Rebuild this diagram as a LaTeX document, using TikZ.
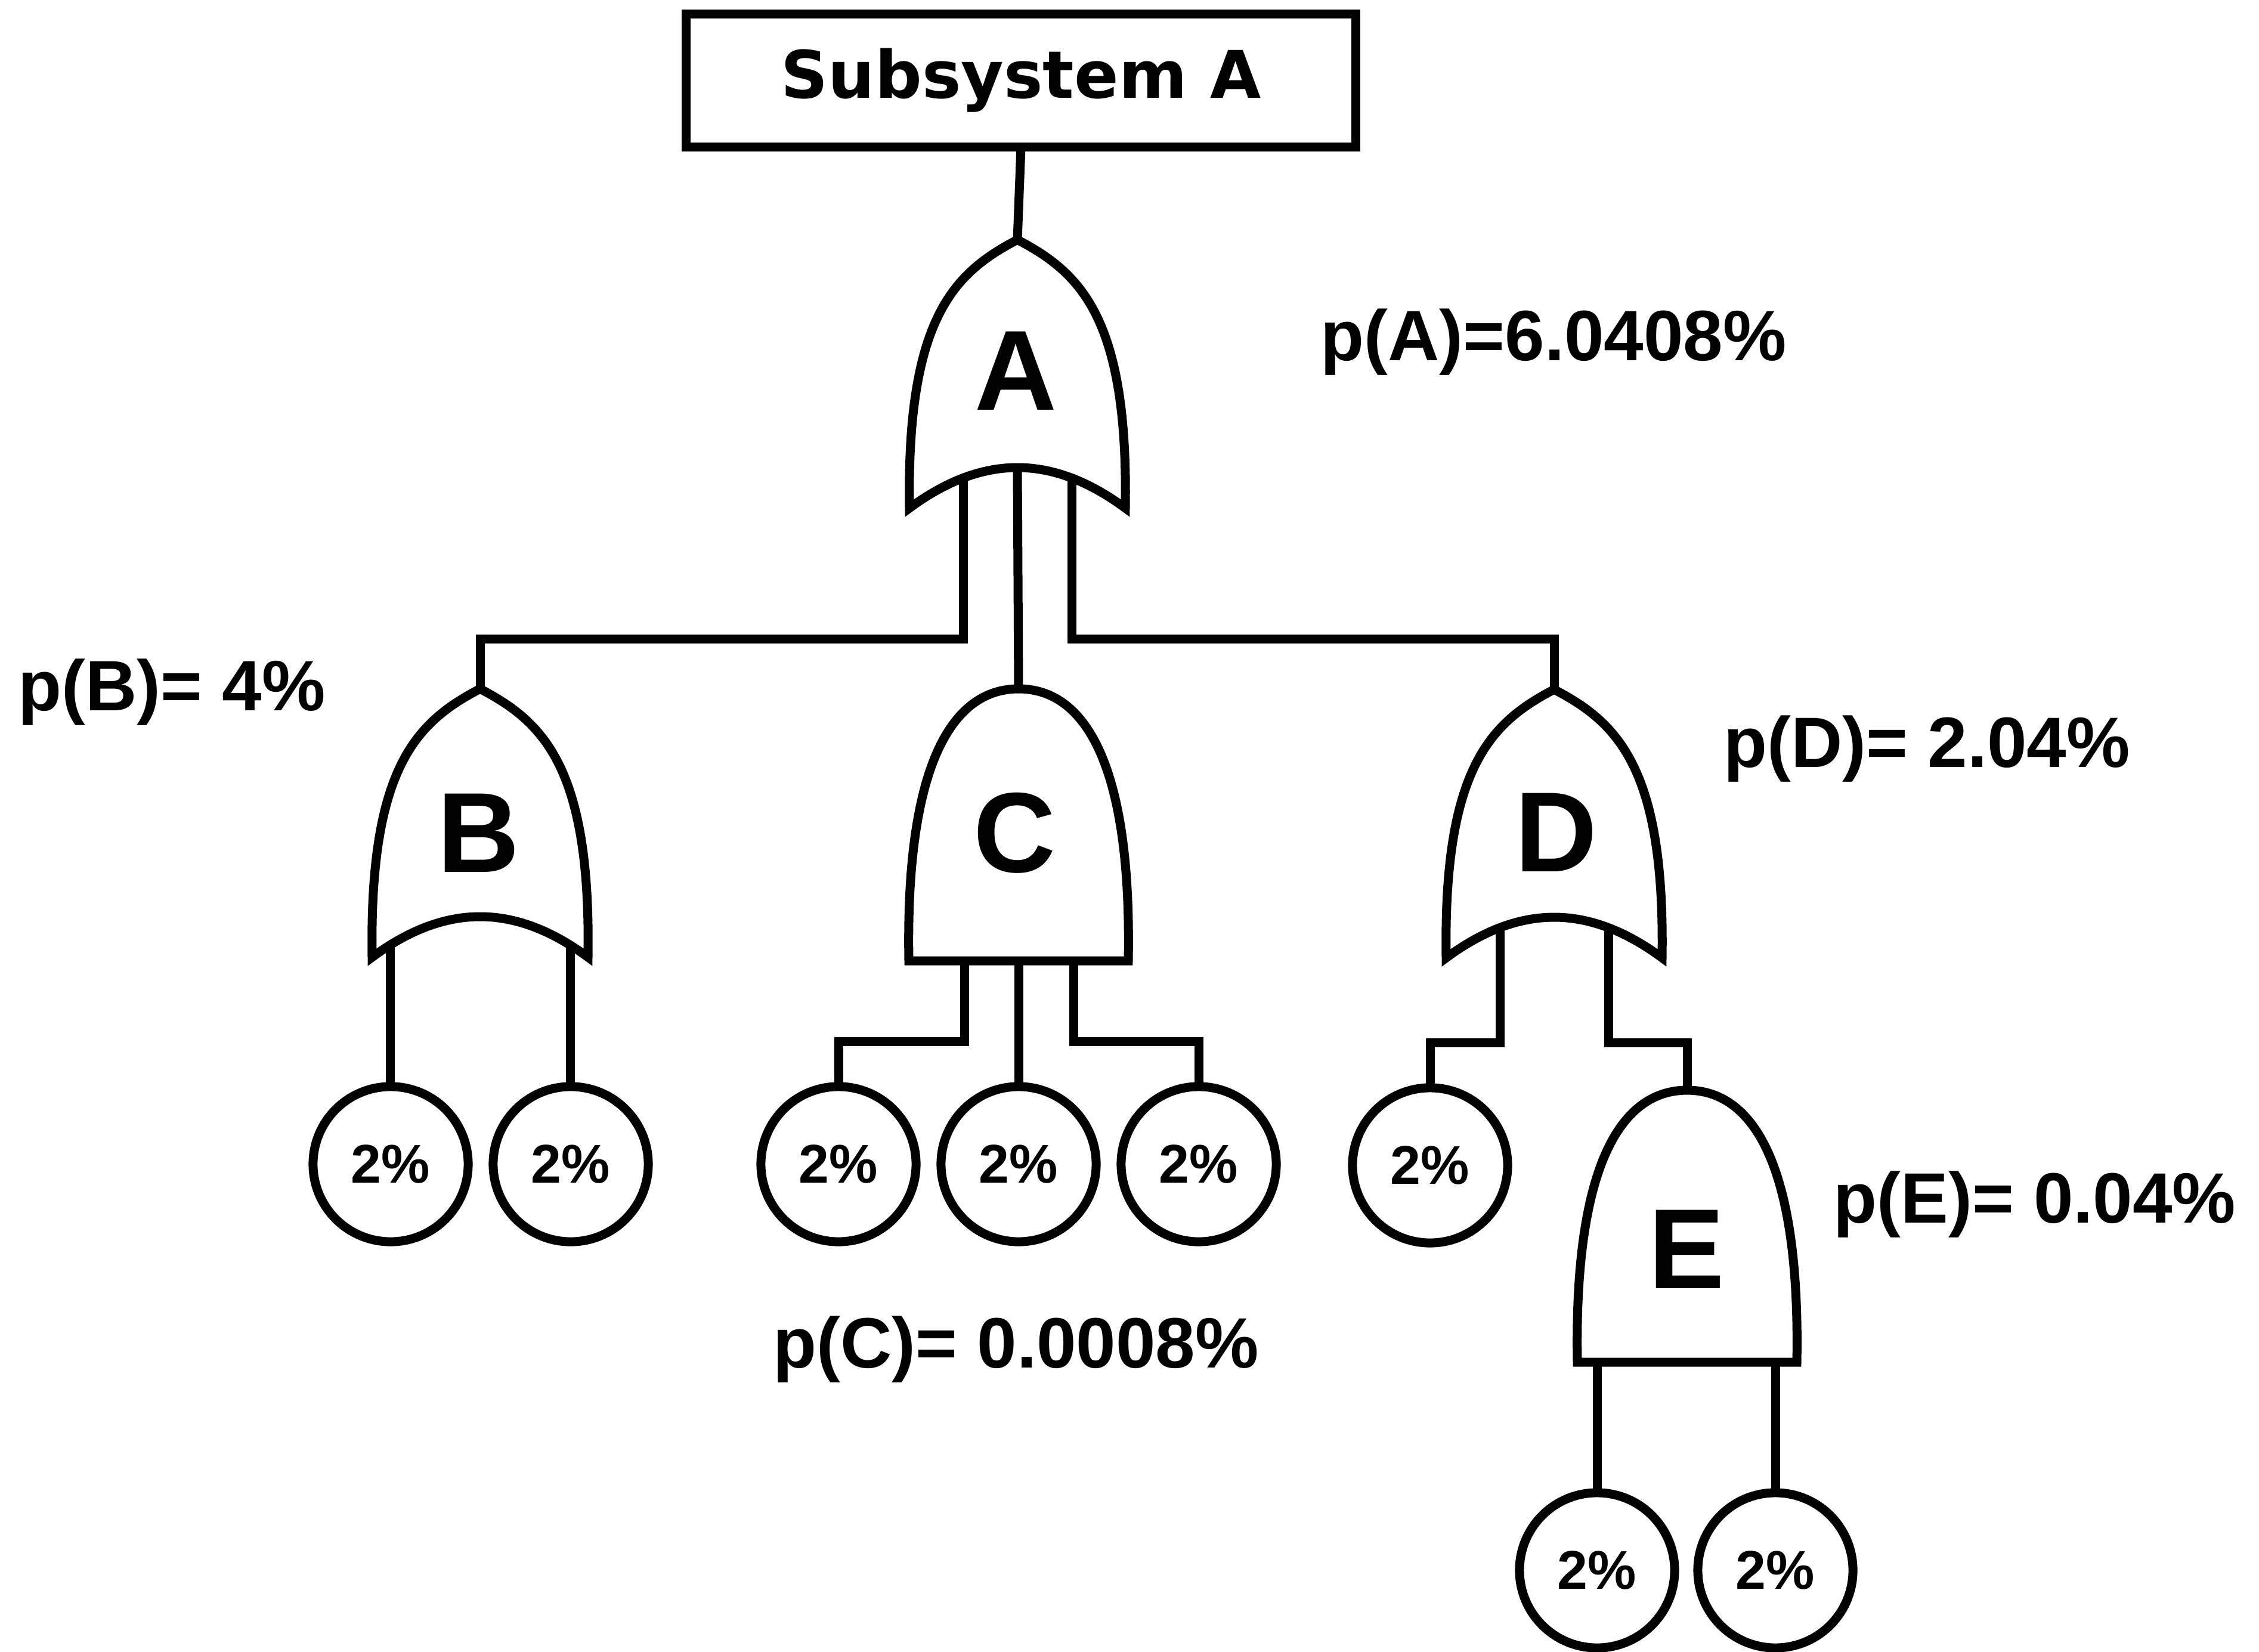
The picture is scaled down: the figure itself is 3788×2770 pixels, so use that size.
\documentclass[tikz,border=0pt]{standalone}
\usepackage{fontspec}
\setmainfont{Liberation Sans}
\newfontfamily\boxfont{DejaVu Sans}
\tikzset{
  ln/.style={line width=0.15cm,draw=black,miter limit=10},
  gateshape/.style={ln,fill=white},
  gatesym/.style={anchor=base,inner sep=0,font=\fontsize{54.3}{60}\selectfont\bfseries},
  prob/.style={anchor=base west,inner sep=0,font=\fontsize{34}{40}\selectfont\bfseries},
  basic/.style={ln,fill=white,circle,minimum size=2.6cm,inner sep=0,outer sep=0,font=\fontsize{26}{30}\selectfont\bfseries},
  topbox/.style={ln,fill=white,rectangle,minimum width=11.23cm,minimum height=2.23cm,inner sep=0,outer sep=0,font=\fontsize{31.3}{36}\selectfont\boxfont\bfseries},
  orgate/.pic={
    \draw[gateshape] (0,0) .. controls (105,55) and (186,130) .. (181,450)
      .. controls (120,405) and (60,382) .. (0,382)
      .. controls (-60,382) and (-120,405) .. (-181,450)
      .. controls (-186,130) and (-105,55) .. cycle;
    \coordinate (-top) at (0,0);
    \coordinate (-c) at (0,382);
    \coordinate (-l) at (-91,398);
    \coordinate (-r) at (91,398);
    \coordinate (-ll) at (-151,428);
    \coordinate (-rr) at (151,428);
  },
  andgate/.pic={
    \draw[gateshape] (0,0) .. controls (108,0) and (190,120) .. (184,456)
      -- (-184,456)
      .. controls (-190,120) and (-108,0) .. cycle;
    \coordinate (-top) at (0,0);
    \coordinate (-c) at (0,456);
    \coordinate (-l) at (-91,456);
    \coordinate (-r) at (92,456);
    \coordinate (-ll) at (-151,456);
    \coordinate (-rr) at (148,456);
  },
}
\begin{document}
\begin{tikzpicture}[x=0.01cm,y=-0.01cm]
\useasboundingbox (0,0) rectangle (3788,2770);
\fill[white] (0,0) rectangle (3788,2770);
% top box
\node[topbox] (box) at (1712,135) {\raisebox{-0.05cm}{Subsystem A}};
% gates
\pic (A) at (1706,402) {orgate};
\pic (B) at (805,1155) {orgate};
\pic (C) at (1708,1155) {andgate};
\pic (D) at (2606,1156) {orgate};
\pic (E) at (2829,1828) {andgate};
\node[gatesym] (tA) at (1703,687) {A};
\node[gatesym] (tB) at (802,1462) {B};
\node[gatesym] (tC) at (1701,1462) {C};
\node[gatesym] (tD) at (2609,1461) {D};
\node[gatesym] (tE) at (2828,2160) {E};
% basic events
\node[basic] (b1) at (655,1952) {2\%};
\node[basic] (b2) at (957,1952) {2\%};
\node[basic] (c1) at (1406,1952) {2\%};
\node[basic] (c2) at (1708,1952) {2\%};
\node[basic] (c3) at (2010,1952) {2\%};
\node[basic] (d1) at (2398,1954) {2\%};
\node[basic] (e1) at (2678,2633) {2\%};
\node[basic] (e2) at (2977,2633) {2\%};
% bus levels
\coordinate (busA) at (0,1071);
\coordinate (busC) at (0,1746);
\coordinate (busD) at (0,1748);
% connectors
\draw[ln] (box.south) -- (A-top);
\draw[ln] (A-l) -- (A-l |- busA) -- (B-top |- busA) -- (B-top);
\draw[ln] (A-c) -- (C-top);
\draw[ln] (A-r) -- (A-r |- busA) -- (D-top |- busA) -- (D-top);
\draw[ln] (B-ll) -- (B-ll |- b1.north);
\draw[ln] (B-rr) -- (B-rr |- b2.north);
\draw[ln] (C-l) -- (C-l |- busC) -- (c1.north |- busC) -- (c1.north);
\draw[ln] (C-c) -- (c2.north);
\draw[ln] (C-r) -- (C-r |- busC) -- (c3.north |- busC) -- (c3.north);
\draw[ln] (D-l) -- (D-l |- busD) -- (d1.north |- busD) -- (d1.north);
\draw[ln] (D-r) -- (D-r |- busD) -- (E-top |- busD) -- (E-top);
\draw[ln] (E-ll) -- (E-ll |- e1.north);
\draw[ln] (E-rr) -- (E-rr |- e2.north);
% probabilities
\node[prob] (pA) at (2214,604) {p(A)=6.0408\%};
\node[prob] (pB) at (30,1191) {p(B)= 4\%};
\node[prob] (pC) at (1296,2293) {p(C)= 0.0008\%};
\node[prob] (pD) at (2890,1286) {p(D)= 2.04\%};
\node[prob] (pE) at (3074,2050) {p(E)= 0.04\%};
\end{tikzpicture}
\end{document}
